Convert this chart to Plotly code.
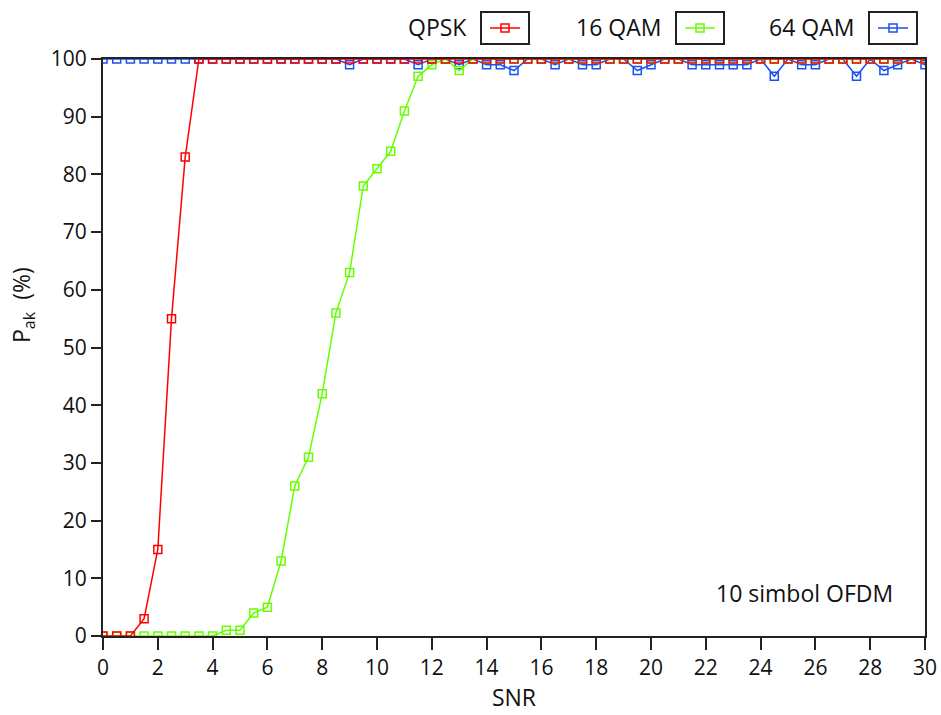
import plotly.graph_objects as go

snr = [0, 0.5, 1, 1.5, 2, 2.5, 3, 3.5, 4, 4.5, 5, 5.5, 6, 6.5, 7, 7.5, 8, 8.5, 9, 9.5,
       10, 10.5, 11, 11.5, 12, 12.5, 13, 13.5, 14, 14.5, 15, 15.5, 16, 16.5, 17, 17.5,
       18, 18.5, 19, 19.5, 20, 20.5, 21, 21.5, 22, 22.5, 23, 23.5, 24, 24.5, 25, 25.5,
       26, 26.5, 27, 27.5, 28, 28.5, 29, 29.5, 30]

qpsk = [0, 0, 0, 3, 15, 55, 83, 100, 100, 100, 100, 100, 100, 100, 100, 100, 100, 100, 100, 100,
        100, 100, 100, 100, 100, 100, 100, 100, 100, 100, 100, 100, 100, 100, 100, 100,
        100, 100, 100, 100, 100, 100, 100, 100, 100, 100, 100, 100, 100, 100, 100, 100,
        100, 100, 100, 100, 100, 100, 100, 100, 100]

qam16 = [0, 0, 0, 0, 0, 0, 0, 0, 0, 1, 1, 4, 5, 13, 26, 31, 42, 56, 63, 78,
         81, 84, 91, 97, 99, 100, 98, 100, 100, 100, 100, 100, 100, 100, 100, 100,
         100, 100, 100, 100, 100, 100, 100, 100, 100, 100, 100, 100, 100, 100, 100, 100,
         100, 100, 100, 100, 100, 100, 100, 100, 100]

qam64 = [100, 100, 100, 100, 100, 100, 100, 100, 100, 100, 100, 100, 100, 100, 100, 100, 100, 100, 99, 100,
         100, 100, 100, 99, 100, 100, 99, 100, 99, 99, 98, 100, 100, 99, 100, 99,
         99, 100, 100, 98, 99, 100, 100, 99, 99, 99, 99, 99, 100, 97, 100, 99,
         99, 100, 100, 97, 100, 98, 99, 100, 99]

series_names = ["QPSK", "16 QAM", "64 QAM"]
colors = {"QPSK": "#ff0000", "16 QAM": "#66ff00", "64 QAM": "#1a50f0"}

x_ticks = [0, 2, 4, 6, 8, 10, 12, 14, 16, 18, 20, 22, 24, 26, 28, 30]
y_ticks = [0, 10, 20, 30, 40, 50, 60, 70, 80, 90, 100]

FONT = "Open Sans"
TXT = 23
TICK = 21
W, H = 941, 715
ML, MR, MT, MB = 103, 16, 59, 79

fig = go.Figure()

# draw order: 64 QAM, 16 QAM, QPSK (QPSK on top)
data = {"QPSK": qpsk, "16 QAM": qam16, "64 QAM": qam64}
legend_ids = {"QPSK": "legend", "16 QAM": "legend2", "64 QAM": "legend3"}
for name in ["64 QAM", "16 QAM", "QPSK"]:
    fig.add_trace(go.Scatter(
        x=snr, y=data[name], mode="lines+markers", name="",
        line=dict(color=colors[name], width=1.5),
        marker=dict(symbol="square-open", size=8, color=colors[name],
                    line=dict(width=1.5, color=colors[name])),
        legend=legend_ids[name], showlegend=True,
        hoverinfo="x+y",
    ))

def px2paper_x(px):
    return (px - ML) / (W - ML - MR)

def px2paper_y(py):
    return (H - MB - py) / (H - MT - MB)

# legend layout (pixel positions of label right edges and icon boxes)
label_right = {"QPSK": 469, "16 QAM": 663, "64 QAM": 856}
box_left = {"QPSK": 481, "16 QAM": 676, "64 QAM": 869}
box_w, box_top, box_bot = 48, 12, 44

legend_cfg = {}
for name in series_names:
    fig.add_annotation(
        x=px2paper_x(label_right[name]), y=px2paper_y(27), xref="paper", yref="paper",
        xanchor="right", yanchor="middle", text=name, showarrow=False,
        font=dict(family=FONT, size=TXT, color="#111"))
    fig.add_shape(type="rect", xref="paper", yref="paper",
                  x0=px2paper_x(box_left[name]), x1=px2paper_x(box_left[name] + box_w),
                  y0=px2paper_y(box_bot), y1=px2paper_y(box_top),
                  line=dict(color="#222", width=2), fillcolor="rgba(0,0,0,0)")
    legend_cfg[legend_ids[name]] = dict(
        x=px2paper_x(box_left[name] + 4), y=px2paper_y(28),
        xanchor="left", yanchor="middle", bgcolor="rgba(0,0,0,0)",
        borderwidth=0, font=dict(family=FONT, size=12), itemwidth=30)

fig.add_annotation(
    x=25.6, y=7.5, xref="x", yref="y", text="10 simbol OFDM", showarrow=False,
    xanchor="center", yanchor="middle", font=dict(family=FONT, size=TXT, color="#111"))

# y-axis title (placed like the original, above centre)
fig.add_annotation(
    x=px2paper_x(22), y=px2paper_y(305), xref="paper", yref="paper",
    text="P<sub>ak</sub>  (%)", textangle=-90, showarrow=False,
    xanchor="center", yanchor="middle", font=dict(family=FONT, size=TXT, color="#111"))

fig.update_layout(
    width=W, height=H,
    margin=dict(l=ML, r=MR, t=MT, b=MB, autoexpand=False),
    paper_bgcolor="white", plot_bgcolor="white",
    font=dict(family=FONT, size=TICK, color="#111"),
    **legend_cfg,
)

fig.update_xaxes(
    range=[0, 30], tickvals=x_ticks, ticktext=[str(v) for v in x_ticks],
    showgrid=False, zeroline=False, showline=True, mirror=True,
    linecolor="#222", linewidth=2, ticks="outside", ticklen=12, tickwidth=2,
    tickcolor="#222", tickfont=dict(family=FONT, size=TICK, color="#111"),
    title=dict(text="SNR", font=dict(family=FONT, size=TXT, color="#111"), standoff=4),
)
fig.update_yaxes(
    range=[0, 100], tickvals=y_ticks, ticktext=[str(v) for v in y_ticks],
    showgrid=False, zeroline=False, showline=True, mirror=True,
    linecolor="#222", linewidth=2, ticks="outside", ticklen=10, tickwidth=2,
    tickcolor="#222", tickfont=dict(family=FONT, size=TICK, color="#111"),
)

fig.write_html("out.html")
